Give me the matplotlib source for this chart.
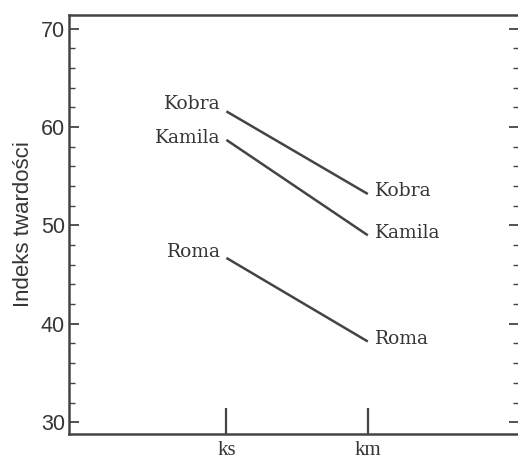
import matplotlib
matplotlib.use("Agg")
import matplotlib.pyplot as plt
from matplotlib.ticker import MultipleLocator

# Hardness index of three wheat varieties under two conditions
conditions = ["ks", "km"]
varieties = ["Kobra", "Kamila", "Roma"]
hardness_ks = [61.6, 58.7, 46.7]
hardness_km = [53.2, 49.0, 38.2]

ink = "#444444"
text_ink = "#363636"
sans = ["Liberation Sans", "DejaVu Sans"]
serif = ["DejaVu Serif"]

fig = plt.figure(figsize=(5.18, 4.59), dpi=100)
ax = fig.add_axes([0.1332, 0.0545, 0.869, 0.9129])

xpos = list(range(len(conditions)))
for name, a, b in zip(varieties, hardness_ks, hardness_km):
    ax.plot(xpos, [a, b], color=ink, lw=1.8, solid_capstyle="butt")

left_offsets = {"Kobra": 5.5, "Kamila": 1.5, "Roma": 4}
right_offsets = {"Kobra": 2, "Kamila": 2, "Roma": 2}
for name, a, b in zip(varieties, hardness_ks, hardness_km):
    ax.annotate(name, (xpos[0], a), xytext=(-4, left_offsets[name]),
                textcoords="offset points", ha="right", va="center",
                fontsize=13.5, family=serif, color=text_ink)
    ax.annotate(name, (xpos[1], b), xytext=(5, right_offsets[name]),
                textcoords="offset points", ha="left", va="center",
                fontsize=13.5, family=serif, color=text_ink)

ax.set_xlim(-1.113, 2.07)
ax.set_ylim(28.8, 71.4)
ax.set_xticks(xpos, conditions)
ax.set_yticks([30, 40, 50, 60, 70])
ax.yaxis.set_minor_locator(MultipleLocator(2))

ax.set_ylabel("Indeks twardości", family=sans, fontsize=16, color=text_ink,
              labelpad=5)

ax.tick_params(axis="y", which="major", direction="in", length=7, width=1.3,
               color=ink, right=True, pad=3, labelsize=15.5,
               labelcolor=text_ink, labelfontfamily="Liberation Sans")
ax.tick_params(axis="y", which="minor", direction="in", length=4, width=1.0,
               color=ink, right=True)
ax.tick_params(axis="x", which="major", direction="in", length=19, width=1.6,
               color=ink, pad=5, labelsize=15, labelcolor=text_ink,
               labelfontfamily="Liberation Serif")

for sp in ax.spines.values():
    sp.set_color(ink)
    sp.set_linewidth(1.8)

fig.savefig("out.png", dpi=100)
